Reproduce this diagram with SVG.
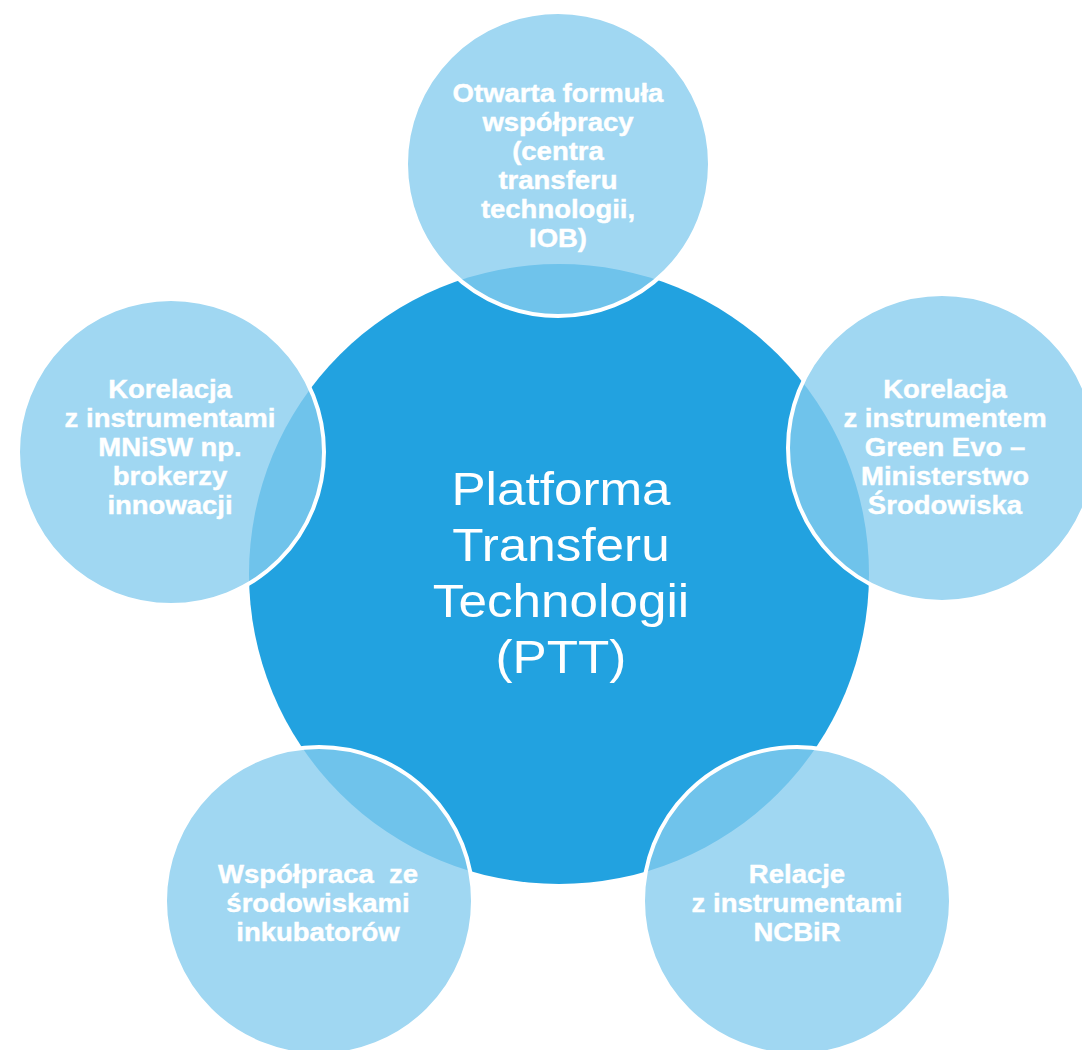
<svg xmlns="http://www.w3.org/2000/svg" width="1082" height="1050" viewBox="0 0 1082 1050">
  <style>
    .center { fill: #22A2E0; }
    .outer { fill: #85CCEE; fill-opacity: 0.78; stroke: #FFFFFF; stroke-width: 4; }
    .lbl { font-family: "Liberation Sans", Arial, sans-serif; font-weight: bold; font-size: 25px; fill: #FFFFFF; stroke: #FFFFFF; stroke-width: 0.4; text-anchor: middle; }
    .title { font-family: "Liberation Sans", Arial, sans-serif; font-size: 47px; fill: #FFFFFF; text-anchor: middle; }
  </style>
  <rect width="1082" height="1050" fill="#FFFFFF"/>

  <g id="node-center">
    <circle class="center" cx="559" cy="574" r="310"/>
    <g transform="translate(561,0) scale(1.09,1)">
      <text class="title" x="0" y="505">Platforma</text>
      <text class="title" x="0" y="561">Transferu</text>
      <text class="title" x="0" y="617">Technologii</text>
      <text class="title" x="0" y="673">(PTT)</text>
    </g>
  </g>

  <g id="node-top">
    <circle class="outer" cx="558" cy="164" r="152"/>
    <g transform="translate(558,0) scale(1.1,1)">
      <text class="lbl" x="0" y="102">Otwarta formuła</text>
      <text class="lbl" x="0" y="131">współpracy</text>
      <text class="lbl" x="0" y="160">(centra</text>
      <text class="lbl" x="0" y="189">transferu</text>
      <text class="lbl" x="0" y="218">technologii,</text>
      <text class="lbl" x="0" y="247">IOB)</text>
    </g>
  </g>

  <g id="node-left">
    <circle class="outer" cx="171" cy="452" r="153"/>
    <g transform="translate(170,0) scale(1.1,1)">
      <text class="lbl" x="0" y="398">Korelacja</text>
      <text class="lbl" x="0" y="427">z instrumentami</text>
      <text class="lbl" x="0" y="456">MNiSW np.</text>
      <text class="lbl" x="0" y="485">brokerzy</text>
      <text class="lbl" x="0" y="514">innowacji</text>
    </g>
  </g>

  <g id="node-right">
    <circle class="outer" cx="942" cy="448" r="154"/>
    <g transform="translate(945,0) scale(1.1,1)">
      <text class="lbl" x="0" y="398">Korelacja</text>
      <text class="lbl" x="0" y="427">z instrumentem</text>
      <text class="lbl" x="0" y="456">Green Evo –</text>
      <text class="lbl" x="0" y="485">Ministerstwo</text>
      <text class="lbl" x="0" y="514">Środowiska</text>
    </g>
  </g>

  <g id="node-bottom-left">
    <circle class="outer" cx="319" cy="901" r="154"/>
    <g transform="translate(318,0) scale(1.1,1)">
      <text class="lbl" x="0" y="883" xml:space="preserve" style="white-space:pre">Współpraca  ze</text>
      <text class="lbl" x="0" y="912">środowiskami</text>
      <text class="lbl" x="0" y="941">inkubatorów</text>
    </g>
  </g>

  <g id="node-bottom-right">
    <circle class="outer" cx="797" cy="901" r="154"/>
    <g transform="translate(797,0) scale(1.1,1)">
      <text class="lbl" x="0" y="883">Relacje</text>
      <text class="lbl" x="0" y="912">z instrumentami</text>
      <text class="lbl" x="0" y="941">NCBiR</text>
    </g>
  </g>
</svg>
